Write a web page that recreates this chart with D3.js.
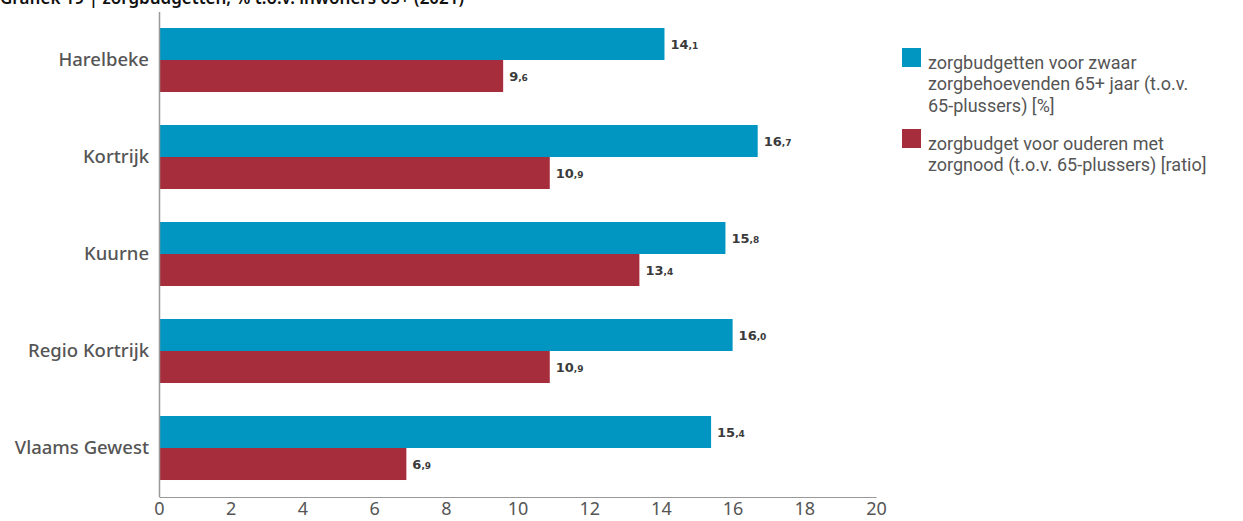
<!DOCTYPE html>
<html><head><meta charset="utf-8">
<script src="https://cdn.jsdelivr.net/npm/d3@7"></script>
<style>body{margin:0;background:#fff;} svg{display:block;}</style>
</head><body>
<script>
const categories = ["Harelbeke","Kortrijk","Kuurne","Regio Kortrijk","Vlaams Gewest"];
const seriesNames = ["zorgbudgetten voor zwaar zorgbehoevenden 65+ jaar (t.o.v. 65-plussers) [%]","zorgbudget voor ouderen met zorgnood (t.o.v. 65-plussers) [ratio]"];
const legendLines = [["zorgbudgetten voor zwaar","zorgbehoevenden 65+ jaar (t.o.v.","65-plussers) [%]"],["zorgbudget voor ouderen met","zorgnood (t.o.v. 65-plussers) [ratio]"]];
const blueValues = [14.1,16.7,15.8,16.0,15.4];
const redValues = [9.6,10.9,13.4,10.9,6.9];
const xTicks = [0,2,4,6,8,10,12,14,16,18,20];
const colors = ["#0096c1","#a62e3c"];
const title = "Grafiek 19 | zorgbudgetten, % t.o.v. inwoners 65+ (2021)";

const W=1243,H=521;
const svg=d3.select("body").append("svg").attr("width",W).attr("height",H);
const font="'Noto Sans', sans-serif";

svg.append("text").attr("x",0).attr("y",4).attr("font-family",font).attr("font-weight","600")
  .attr("font-size",17).attr("fill","#111").text(title);

const x=d3.scaleLinear().domain([0,20]).range([159,876]);
const y=d3.scaleBand().domain(categories).range([11.5,496.5]).paddingInner(0.34).paddingOuter(0.17);
const sub=d3.scaleBand().domain([0,1]).range([0,y.bandwidth()]);

const series=[blueValues,redValues];
series.forEach((vals,si)=>{
  svg.append("g").selectAll("rect").data(categories).join("rect")
    .attr("x",x(0)).attr("y",c=>y(c)+sub(si)).attr("width",(c,i)=>x(vals[i])-x(0))
    .attr("height",sub.bandwidth()).attr("fill",colors[si]);
  const t=svg.append("g").selectAll("text").data(categories).join("text")
    .attr("x",(c,i)=>x(vals[i])+6).attr("y",c=>y(c)+sub(si)+sub.bandwidth()/2+5)
    .attr("font-family","'DejaVu Sans', sans-serif").attr("font-weight","bold").attr("fill","#3a3a3a");
  t.each(function(c,i){
    const parts=vals[i].toFixed(1).split(".");
    const s=d3.select(this);
    s.append("tspan").attr("font-size",13).text(parts[0]);
    s.append("tspan").attr("font-size",9).text(","+parts[1]);
  });
});

// axes
const yAxis=svg.append("g").attr("transform",`translate(${x(0)},0)`)
  .call(d3.axisLeft(y).tickSize(0).tickPadding(10));
yAxis.select(".domain").attr("stroke","#999").attr("stroke-width",1.5);
yAxis.selectAll("text").attr("font-family",font).attr("font-size",18.5).attr("font-weight",500).attr("fill","#555");

const xAxis=svg.append("g").attr("transform",`translate(0,497)`)
  .call(d3.axisBottom(x).tickValues(xTicks).tickSize(0).tickPadding(5).tickFormat(d3.format("d")));
xAxis.select(".domain").attr("stroke","#999").attr("stroke-width",1.2);
xAxis.selectAll("text").attr("font-family",font).attr("font-size",18).attr("fill","#555");

// legend
const legTop=[48,129];
legendLines.forEach((lines,li)=>{
  svg.append("rect").attr("x",902).attr("y",legTop[li]).attr("width",19).attr("height",19).attr("fill",colors[li]);
  const t=svg.append("text").attr("font-family","Roboto, sans-serif").attr("font-size",18).attr("fill","#555");
  lines.forEach((ln,k)=>t.append("tspan").attr("x",928).attr("y",legTop[li]+20.5+k*21.5).text(ln));
});
</script>
</body></html>
